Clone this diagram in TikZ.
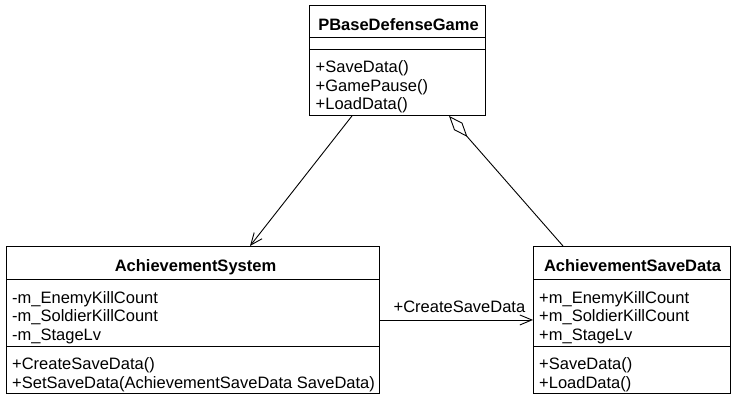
\documentclass[tikz,border=0pt]{standalone}
\usepackage{fontspec}
\setmainfont{Liberation Sans}
\usetikzlibrary{arrows.meta,calc}
\newcommand\clslines[1]{\begin{tabular}[t]{@{}l@{}}#1\end{tabular}}
\begin{document}
\begin{tikzpicture}[x=1pt,y=-1pt,
  every node/.style={font=\fontsize{16.5}{18.5}\selectfont, text=black},
  comp/.style={draw=black, line width=0.9pt, inner sep=0pt, anchor=north west},
  txt/.style={inner sep=0pt, anchor=base west},
  ttxt/.style={inner sep=0pt, anchor=base, font=\fontsize{16.5}{18.5}\selectfont\bfseries},
  conn/.style={draw=black, line width=0.9pt},
  openarrow/.style={-{Straight Barb[length=12pt,width=10pt,line width=0.9pt]}},
  aggr/.style={{Diamond[open,length=28pt,width=11pt,line width=0.9pt]}-}
]
\useasboundingbox (0,0) rectangle (733,400);

% ---- PBaseDefenseGame
\node[comp, minimum width=176pt, minimum height=32pt] (topT) at (309,5) {};
\node[comp, minimum width=176pt, minimum height=12pt] (topA) at (309,37) {};
\node[comp, minimum width=176pt, minimum height=66pt] (topM) at (309,49) {};
\node[ttxt] (topTt) at (398.5,30) {PBaseDefenseGame};
\node[txt] (topMt) at (315.5,72.5) {\clslines{+SaveData()\\+GamePause()\\+LoadData()}};

% ---- AchievementSystem
\node[comp, minimum width=373pt, minimum height=33pt] (lT) at (6,246) {};
\node[comp, minimum width=373pt, minimum height=67pt] (lA) at (6,279) {};
\node[comp, minimum width=373pt, minimum height=47pt] (lM) at (6,346) {};
\node[ttxt] (lTt) at (195.5,271.5) {AchievementSystem};
\node[txt] (lAt) at (12,303) {\clslines{-m\_EnemyKillCount\\-m\_SoldierKillCount\\-m\_StageLv}};
\node[txt] (lMt) at (12,369.5) {\clslines{+CreateSaveData()\\+SetSaveData(AchievementSaveData SaveData)}};

% ---- AchievementSaveData
\node[comp, minimum width=197pt, minimum height=33pt] (rT) at (533,246) {};
\node[comp, minimum width=197pt, minimum height=67pt] (rA) at (533,279) {};
\node[comp, minimum width=197pt, minimum height=47pt] (rM) at (533,346) {};
\node[ttxt] (rTt) at (632.5,271.5) {AchievementSaveData};
\node[txt] (rAt) at (539,303) {\clslines{+m\_EnemyKillCount\\+m\_SoldierKillCount\\+m\_StageLv}};
\node[txt] (rMt) at (539,369.5) {\clslines{+SaveData()\\+LoadData()}};

% ---- connectors
\draw[conn, openarrow] ([xshift=43pt]topM.south west) -- ([xshift=244pt]lT.north west);
\draw[conn, aggr] ([xshift=140pt]topM.south west) -- ([xshift=30pt]rT.north west);
\draw[conn, openarrow] ([yshift=-7pt]lA.east) --
  node[midway, anchor=base, inner sep=0pt, xshift=3pt, yshift=7.5pt] (lbl) {+CreateSaveData}
  ([yshift=-7pt]rA.west);
\end{tikzpicture}
\end{document}
